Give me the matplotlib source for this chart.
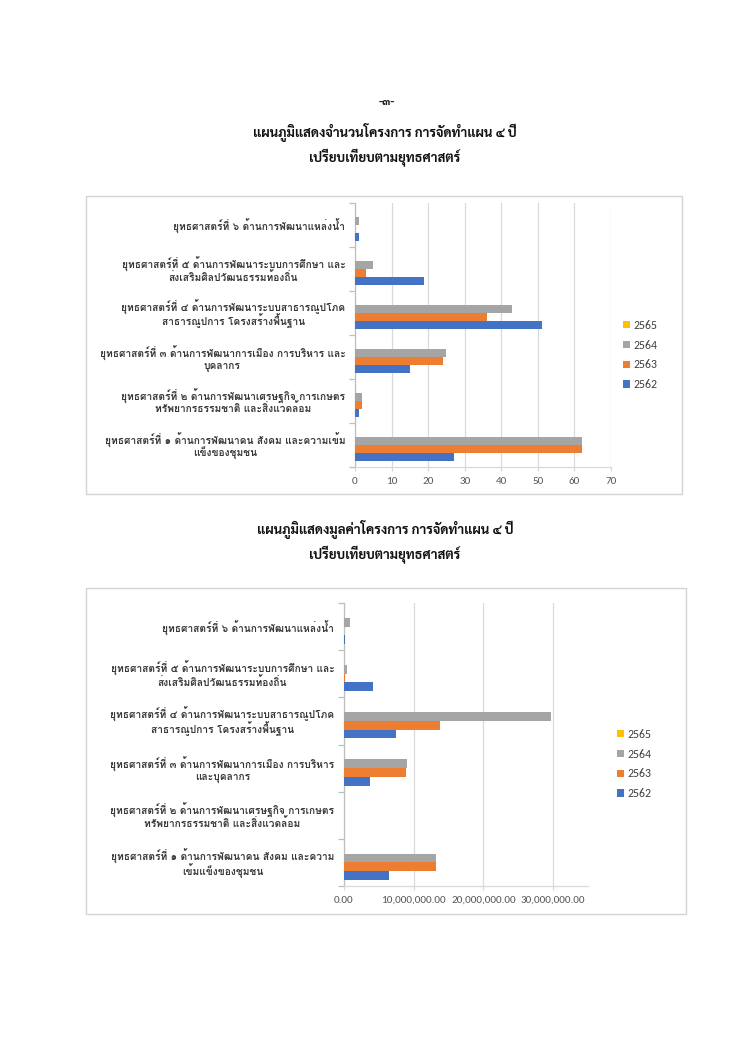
import os
import matplotlib
matplotlib.use("Agg")
import matplotlib.pyplot as plt
from matplotlib import font_manager as fm
from matplotlib.patches import Rectangle, Patch
from matplotlib.ticker import FixedLocator, FuncFormatter

# ---------------- fonts ----------------
def first_path(paths):
    for p in paths:
        if os.path.exists(p):
            return p
    return None

TITLE_PATH = first_path(["/usr/share/fonts/truetype/google-fonts/Sarabun-Bold.ttf",
                         "/usr/share/fonts/opentype/tlwg/Loma-Bold.otf"])
LABEL_PATH = first_path(["/usr/share/fonts/opentype/tlwg/Loma-Bold.otf",
                         "/usr/share/fonts/truetype/google-fonts/Sarabun-Bold.ttf"])

def fp(path, size):
    if path:
        return fm.FontProperties(fname=path, size=size)
    return fm.FontProperties(family="DejaVu Sans", size=size, weight="bold")

NUM_FONT = ["Carlito", "Open Sans", "DejaVu Sans"]

# ---------------- data ----------------
series_names = ["2562", "2563", "2564", "2565"]
series_colors = ["#4472C4", "#ED7D31", "#A5A5A5", "#FFC000"]

labels_count = [
    "ยุทธศาสตร์ที่ ๑ ด้านการพัฒนาคน สังคม และความเข้ม\nแข็งของชุมชน",
    "ยุทธศาสตร์ที่ ๒ ด้านการพัฒนาเศรษฐกิจ การเกษตร\nทรัพยากรธรรมชาติ และสิ่งแวดล้อม",
    "ยุทธศาสตร์ที่ ๓ ด้านการพัฒนาการเมือง การบริหาร และ\nบุคลากร",
    "ยุทธศาสตร์ที่ ๔ ด้านการพัฒนาระบบสาธารณูปโภค\nสาธารณูปการ โครงสร้างพื้นฐาน",
    "ยุทธศาสตร์ที่ ๕ ด้านการพัฒนาระบบการศึกษา และ\nส่งเสริมศิลปวัฒนธรรมท้องถิ่น",
    "ยุทธศาสตร์ที่ ๖ ด้านการพัฒนาแหล่งน้ำ",
]
labels_value = [
    "ยุทธศาสตร์ที่ ๑ ด้านการพัฒนาคน สังคม และความ\nเข้มแข็งของชุมชน",
    "ยุทธศาสตร์ที่ ๒ ด้านการพัฒนาเศรษฐกิจ การเกษตร\nทรัพยากรธรรมชาติ และสิ่งแวดล้อม",
    "ยุทธศาสตร์ที่ ๓ ด้านการพัฒนาการเมือง การบริหาร\nและบุคลากร",
    "ยุทธศาสตร์ที่ ๔ ด้านการพัฒนาระบบสาธารณูปโภค\nสาธารณูปการ โครงสร้างพื้นฐาน",
    "ยุทธศาสตร์ที่ ๕ ด้านการพัฒนาระบบการศึกษา และ\nส่งเสริมศิลปวัฒนธรรมท้องถิ่น",
    "ยุทธศาสตร์ที่ ๖ ด้านการพัฒนาแหล่งน้ำ",
]

# number of projects (strategy 1..6)
count_2562 = [27, 1, 15, 51, 19, 1]
count_2563 = [62, 2, 24, 36, 3, 0]
count_2564 = [62, 2, 25, 43, 5, 1]
count_2565 = [0, 0, 0, 0, 0, 0]

# project value in baht (strategy 1..6)
value_2562 = [6500000, 20000, 3700000, 7500000, 4200000, 150000]
value_2563 = [13200000, 50000, 8900000, 13700000, 200000, 0]
value_2564 = [13200000, 30000, 9100000, 29750000, 500000, 850000]
value_2565 = [0, 0, 0, 0, 0, 0]

count_ticks = [0, 10, 20, 30, 40, 50, 60, 70]
value_ticks = [0, 10000000, 20000000, 30000000]

title1 = ["แผนภูมิแสดงจำนวนโครงการ การจัดทำแผน ๔ ปี", "เปรียบเทียบตามยุทธศาสตร์"]
title2 = ["แผนภูมิแสดงมูลค่าโครงการ การจัดทำแผน ๔ ปี", "เปรียบเทียบตามยุทธศาสตร์"]
page_no = "-๓-"

# ---------------- figure ----------------
W, H = 750, 1060
fig = plt.figure(figsize=(W / 100, H / 100), dpi=100)
fig.patch.set_facecolor("white")

def px_axes(l, t, r, b):
    return fig.add_axes([l / W, 1 - b / H, (r - l) / W, (b - t) / H])

def box(l, t, r, b):
    fig.patches.append(Rectangle((l / W, 1 - b / H), (r - l) / W, (b - t) / H,
                                 transform=fig.transFigure, fill=False,
                                 edgecolor="#d4d4d4", linewidth=1.0))

def ftext(x, y, s, prop, **kw):
    fig.text(x / W, 1 - y / H, s, ha="center", va="center", fontproperties=prop, **kw)

GRID = "#d9d9d9"
AXC = "#bfbfbf"
BAR_H = 0.185

def bar_chart(ax, data, labels, xmax, ticks, fmt, legend_xy):
    n = len(labels)
    ys = list(range(n))
    for j, (vals, col, name) in enumerate(zip(data, series_colors, series_names)):
        pos = [y + (j - 1.5) * BAR_H for y in ys]
        ax.barh(pos, vals, height=BAR_H, color=col, label=name, zorder=3)
    ax.set_xlim(0, xmax)
    ax.set_ylim(-0.5, n - 0.5)
    ax.set_xticks(ticks)
    ax.xaxis.set_major_formatter(FuncFormatter(fmt))
    ax.grid(axis="x", color=GRID, linewidth=0.9, zorder=0)
    ax.set_axisbelow(True)
    for s in ["top", "right"]:
        ax.spines[s].set_visible(False)
    ax.spines["bottom"].set_color(GRID)
    ax.spines["bottom"].set_linewidth(0.9)
    ax.spines["left"].set_color(AXC)
    ax.spines["left"].set_linewidth(0.9)
    ax.tick_params(axis="x", length=3, color=GRID, width=0.9, pad=4,
                   labelsize=8, labelcolor="#595959")
    for t in ax.get_xticklabels():
        t.set_fontfamily(NUM_FONT)
    ax.set_yticks(ys)
    ax.set_yticklabels(labels, fontproperties=fp(LABEL_PATH, 7.35),
                       color="#383838", multialignment="center", linespacing=0.97)
    ax.tick_params(axis="y", which="major", length=0, pad=7)
    ax.yaxis.set_minor_locator(FixedLocator([y - 0.5 for y in range(n + 1)]))
    ax.tick_params(axis="y", which="minor", length=4, color=AXC, width=0.9)
    handles = [Patch(facecolor=c, label=nm) for c, nm in zip(series_colors, series_names)][::-1]
    fig.legend(handles=handles, loc="center left",
               bbox_to_anchor=(legend_xy[0] / W, 1 - legend_xy[1] / H),
               frameon=False, handlelength=0.6, handleheight=0.6,
               handletextpad=0.3, labelspacing=0.75,
               prop=fm.FontProperties(family=NUM_FONT, size=8.5), labelcolor="#404040")

# titles
ftext(387, 102, page_no, fp(TITLE_PATH, 8.5), color="#222222")
ftext(385, 132, title1[0], fp(TITLE_PATH, 9.5), color="#111111")
ftext(385, 158, title1[1], fp(TITLE_PATH, 9.5), color="#111111")
ftext(385, 529, title2[0], fp(TITLE_PATH, 9.5), color="#111111")
ftext(385, 555, title2[1], fp(TITLE_PATH, 9.5), color="#111111")

# chart 1: number of projects
box(86, 196, 682, 494)
ax1 = px_axes(355, 203, 611, 467)
bar_chart(ax1, [count_2562, count_2563, count_2564, count_2565], labels_count,
          70, count_ticks, lambda v, p: "%d" % v, (612, 355))

# chart 2: project value
box(86, 588, 686, 914)
ax2 = px_axes(344, 603, 588, 886)
bar_chart(ax2, [value_2562, value_2563, value_2564, value_2565], labels_value,
          35000000, value_ticks, lambda v, p: "{:,.2f}".format(v), (606, 764))

fig.savefig("out.png", dpi=100, facecolor="white")
